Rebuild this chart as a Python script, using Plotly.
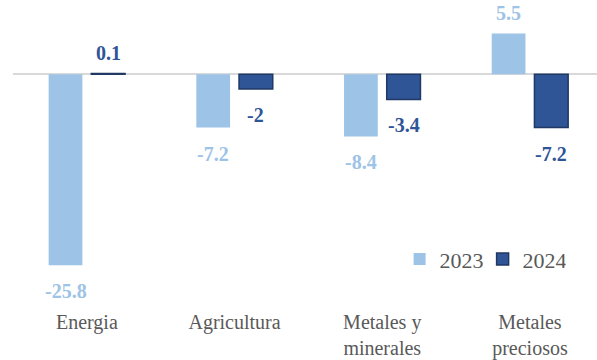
import plotly.graph_objects as go

categories = ["Energia", "Agricultura", "Metales y<br>minerales", "Metales<br>preciosos"]
values_2023 = [-25.8, -7.2, -8.4, 5.5]
values_2024 = [0.1, -2.0, -3.4, -7.2]
series_names = ["2023", "2024"]

COLOR_2023 = "#9DC3E6"
COLOR_2024 = "#2F5597"
EDGE_2024 = "#1F3864"
TEXT_GRAY = "#595959"
FONT = "Liberation Serif"

fig = go.Figure()
fig.add_trace(go.Bar(
    x=list(range(len(categories))), y=values_2023, name=series_names[0],
    marker=dict(color=COLOR_2023, line=dict(width=0)),
))
fig.add_trace(go.Bar(
    x=list(range(len(categories))), y=values_2024, name=series_names[1],
    marker=dict(color=COLOR_2024, line=dict(color=EDGE_2024, width=1.5)),
))

bargap = 0.422
slot = (1 - bargap) / 2
annotations = []
for vals, offset, color in ((values_2023, -slot / 2, COLOR_2023), (values_2024, slot / 2, COLOR_2024)):
    for i, v in enumerate(vals):
        annotations.append(dict(
            x=i + offset, y=v, xref="x", yref="y",
            text=f"<b>{v:g}</b>", showarrow=False,
            yanchor="middle", xanchor="center",
            yshift=21 if v > 0 else -26,
            font=dict(family=FONT, size=20, color=color),
        ))

fig.update_layout(
    width=597, height=360,
    margin=dict(l=13, r=0, t=0, b=60),
    paper_bgcolor="white", plot_bgcolor="white",
    barmode="group", bargap=bargap, bargroupgap=0.21,
    font=dict(family=FONT, size=20, color=TEXT_GRAY),
    showlegend=True,
    legend=dict(
        orientation="h", x=0.662, xanchor="left", y=0.127, yanchor="middle",
        entrywidth=38, entrywidthmode="pixels",
        font=dict(family=FONT, size=22, color=TEXT_GRAY),
        bgcolor="rgba(0,0,0,0)", traceorder="normal",
    ),
    xaxis=dict(
        range=[-0.5, 3.454], tickmode="array",
        tickvals=list(range(len(categories))), ticktext=categories,
        showgrid=False, showline=False, zeroline=False, ticks="",
        ticklabelstandoff=11,
        tickfont=dict(family=FONT, size=20, color=TEXT_GRAY),
    ),
    yaxis=dict(
        range=[-30.08, 10.03], showgrid=False, showticklabels=False,
        showline=False, ticks="",
        zeroline=True, zerolinecolor="#D9D9D9", zerolinewidth=1.5,
    ),
    annotations=annotations,
)

fig.write_html("out.html")
